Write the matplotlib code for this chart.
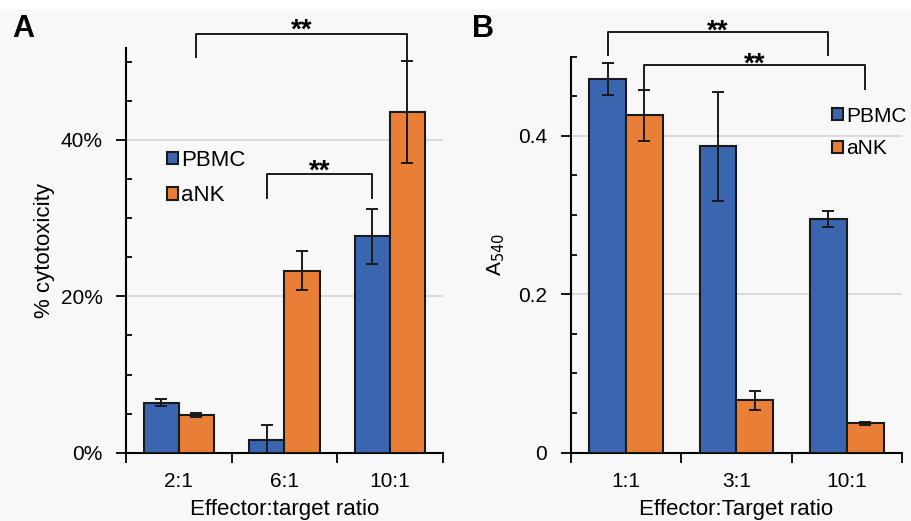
import numpy as np
import matplotlib.pyplot as plt
from matplotlib.patches import Rectangle
from matplotlib.ticker import MultipleLocator, FuncFormatter

plt.rcParams['font.family'] = ['Liberation Sans', 'DejaVu Sans']

# ---- data: panel A (% cytotoxicity) ----
ratios_a = ['2:1', '6:1', '10:1']
pbmc_a = [6.4, 1.6, 27.7]
pbmc_a_err = [0.45, 2.0, 3.5]
ank_a = [4.8, 23.3, 43.6]
ank_a_err = [0.25, 2.5, 6.5]

# ---- data: panel B (A540) ----
ratios_b = ['1:1', '3:1', '10:1']
pbmc_b = [0.472, 0.387, 0.295]
pbmc_b_err = [0.020, 0.069, 0.010]
ank_b = [0.426, 0.066, 0.037]
ank_b_err = [0.032, 0.012, 0.002]

BLUE = '#3a66b0'
ORANGE = '#e97f37'
BG = '#f8f8f8'
W = 0.333

fig = plt.figure(figsize=(9.12, 5.21), dpi=100, facecolor=BG)
fig.patches.append(Rectangle((0, 1 - 8 / 521), 1, 8 / 521, transform=fig.transFigure,
                             color='white', zorder=0))

axA = fig.add_axes([0.1382, 0.1311, 0.3472, 0.7773])
axB = fig.add_axes([0.6258, 0.1311, 0.3632, 0.7601])


def style(ax, labels, ymax, major, minor):
    ax.set_facecolor(BG)
    x = np.arange(len(labels))
    ax.set_xlim(-0.5, len(labels) - 0.5)
    ax.set_ylim(0, ymax)
    ax.set_xticks(np.arange(len(labels) + 1) - 0.5)
    ax.set_xticklabels([])
    ax.set_xticks(x, minor=True)
    ax.set_xticklabels(labels, minor=True, fontsize=15)
    ax.tick_params(axis='x', which='major', length=7, width=1.3, direction='out')
    ax.tick_params(axis='x', which='minor', length=0, pad=14)
    ax.yaxis.set_major_locator(MultipleLocator(major))
    ax.yaxis.set_minor_locator(MultipleLocator(minor))
    ax.tick_params(axis='y', which='major', length=7, width=1.3, direction='out',
                   labelsize=15, pad=10)
    ax.tick_params(axis='y', which='minor', length=4, width=1.3, direction='in')
    ax.grid(axis='y', which='major', color='#d4d4d4', linewidth=1.2, zorder=0)
    ax.set_axisbelow(True)
    for s in ['top', 'right']:
        ax.spines[s].set_visible(False)
    for s in ['left', 'bottom']:
        ax.spines[s].set_linewidth(1.5)
    return x


def bars(ax, x, p, pe, a, ae):
    kw = dict(width=W, edgecolor='#1a1a1a', linewidth=1.5, zorder=3,
              error_kw=dict(ecolor='#1a1a1a', elinewidth=1.4, capsize=4, capthick=1.4))
    ax.bar(x - W / 2, p, yerr=pe, color=BLUE, label='PBMC', **kw)
    ax.bar(x + W / 2, a, yerr=ae, color=ORANGE, label='aNK', **kw)


def bracket(ax, x1, x2, y, y1, y2, off=-2):
    ax.plot([x1, x1, x2, x2], [y1, y, y, y2], color='#1a1a1a', lw=1.4, clip_on=False, zorder=4)
    ax.annotate('**', ((x1 + x2) / 2, y), xytext=(0, off), textcoords='offset points',
                ha='center', va='baseline', fontsize=20, fontweight='bold',
                annotation_clip=False)


def legend(ax, xy, fs=16):
    ax.legend(loc='upper left', bbox_to_anchor=xy, frameon=False, fontsize=fs,
              handlelength=0.5, handleheight=0.5, handletextpad=0.15, labelspacing=0.65,
              borderaxespad=0)


# panel A
x = style(axA, ratios_a, 51.8, 20, 5)
axA.yaxis.set_major_formatter(FuncFormatter(lambda v, p: '%d%%' % v))
bars(axA, x, pbmc_a, pbmc_a_err, ank_a, ank_a_err)
bracket(axA, x[0] + W / 2, x[2] + W / 2, 53.6, 50.6, 50.1, off=-3)
bracket(axA, x[1] - W / 2, x[2] - W / 2, 35.6, 32.6, 32.6, off=-3)
legend(axA, (0.10, 0.77))
axA.set_xlabel('Effector:target ratio', fontsize=16, labelpad=6)
axA.set_ylabel('% cytotoxicity', fontsize=16, labelpad=4)

# panel B
x = style(axB, ratios_b, 0.5, 0.2, 0.05)
axB.yaxis.set_major_formatter(FuncFormatter(lambda v, p: '0' if v == 0 else '%.1f' % v))
bars(axB, x, pbmc_b, pbmc_b_err, ank_b, ank_b_err)
bracket(axB, x[0] - W / 2, x[2] - W / 2, 0.531, 0.5025, 0.5025, off=-5)
bracket(axB, x[0] + W / 2, x[2] + W / 2, 0.49, 0.459, 0.4595, off=-5)
legend(axB, (0.765, 0.895), fs=15)
axB.set_xlabel('Effector:Target ratio', fontsize=16, labelpad=6)
axB.set_ylabel('A$_{540}$', fontsize=15, labelpad=8)

fig.text(12 / 912, 1 - 37 / 521, 'A', fontsize=22, fontweight='bold')
fig.text(472 / 912, 1 - 37 / 521, 'B', fontsize=22, fontweight='bold')

fig.savefig('out.png', dpi=100, facecolor=BG)
